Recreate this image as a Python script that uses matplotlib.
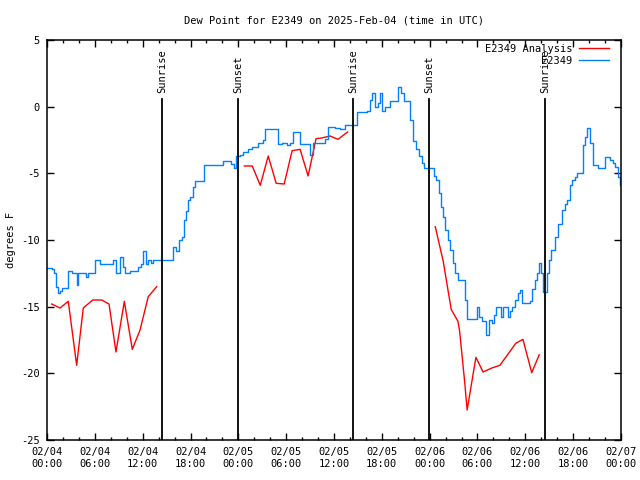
import numpy as np
import matplotlib
matplotlib.use("Agg")
import matplotlib.pyplot as plt
from matplotlib.ticker import MultipleLocator

# hours since 2025-02-04 00:00 UTC
obs_hours = [0, 0.63, 0.88, 1.13, 1.38, 1.63, 1.88, 2.38, 2.63, 3.14, 3.64, 3.76, 3.89,
             4.64, 4.89, 5.14, 5.64, 6.02, 6.65, 7.90, 8.28, 8.66, 8.91, 9.16, 9.53,
             9.78, 10.41, 11.16, 11.41, 11.79, 12.04, 12.42, 12.67, 13.05, 13.30,
             15.43, 15.81, 16.18, 16.56, 16.93, 17.19, 17.44, 17.69, 17.94, 18.31,
             18.56, 19.44, 19.69, 21.70, 22.08, 22.70, 23.08, 23.46, 23.71, 24.21,
             24.59, 25.21, 25.72, 26.47, 27.09, 27.35, 28.60, 28.98, 29.48, 30.11,
             30.48, 30.86, 31.36, 31.74, 32.61, 32.99, 33.37, 34.24, 34.87, 35.25,
             36.13, 36.75, 37.38, 38.38, 38.89, 39.89, 40.14, 40.52, 40.77, 41.14,
             41.52, 41.77, 42.02, 42.40, 43.03, 43.65, 44.03, 44.41, 44.78, 45.16,
             45.53, 45.91, 46.29, 46.66, 47.04, 47.29, 48.17, 48.54, 48.80, 49.17,
             49.42, 49.67, 49.92, 50.30, 50.55, 50.93, 51.18, 51.56, 52.06, 52.43,
             52.68, 53.69, 53.94, 54.19, 54.57, 55.07, 55.44, 55.82, 56.07, 56.32,
             56.82, 56.95, 57.20, 57.58, 57.83, 58.08, 58.33, 58.71, 59.08, 59.33,
             59.58, 60.21, 60.59, 60.84, 61.21, 61.46, 61.72, 61.97, 62.22, 62.47,
             62.72, 62.97, 63.22, 63.72, 64.10, 64.60, 64.98, 65.23, 65.60, 65.85,
             66.23, 66.48, 66.86, 67.23, 67.49, 67.74, 68.11, 68.49, 69.12, 69.62,
             69.99, 70.37, 70.62, 71.00, 71.25, 71.62, 71.87]
obs_dewpt = [-12.1, -12.2, -12.5, -13.5, -14.0, -13.8, -13.6, -13.6, -12.3, -12.5, -12.5,
             -13.4, -12.5, -12.5, -12.8, -12.5, -12.5, -11.5, -11.8, -11.8, -11.5, -12.5,
             -12.5, -11.3, -12.0, -12.5, -12.3, -12.3, -12.0, -11.8, -10.8, -11.8, -11.5,
             -11.7, -11.5, -11.5, -10.5, -10.8, -10.0, -9.8, -8.5, -7.8, -7.0, -6.8,
             -6.0, -5.6, -5.6, -4.4, -4.4, -4.1, -4.1, -4.3, -4.6, -3.7, -3.6, -3.4,
             -3.2, -3.0, -2.7, -2.5, -1.7, -1.7, -2.8, -2.7, -2.9, -2.7, -1.9, -1.9,
             -2.8, -2.8, -3.6, -2.7, -2.7, -2.4, -1.5, -1.6, -1.7, -1.4, -1.4, -0.4,
             -0.4, -0.3, 0.5, 1.0, 0.0, 0.3, 1.0, -0.3, 0.0, 0.4, 0.4, 1.5, 1.0, 0.4,
             0.4, -1.0, -2.6, -3.2, -3.7, -4.2, -4.6, -4.6, -5.2, -5.5, -6.5, -7.5,
             -8.3, -9.25, -10.0, -10.75, -11.7, -12.5, -13.0, -13.0, -14.5, -15.9,
             -15.9, -15.0, -15.8, -16.1, -17.1, -16.0, -16.2, -15.6, -15.0, -15.0,
             -15.75, -15.0, -15.0, -15.75, -15.3, -15.0, -14.5, -14.0, -13.75, -14.75,
             -14.75, -14.6, -13.7, -13.0, -12.5, -11.75, -12.5, -13.9, -13.9, -12.5,
             -11.5, -10.75, -9.75, -8.8, -7.75, -7.3, -7.0, -5.9, -5.5, -5.25, -5.0,
             -5.0, -2.9, -2.3, -1.6, -2.75, -4.4, -4.6, -4.6, -3.75, -3.75, -4.0,
             -4.2, -4.5, -5.3, -5.9]

ana_hours = [0.59, 1.63, 2.67, 3.72, 4.55, 5.73, 6.86, 7.78, 8.65, 9.70, 10.70, 11.67,
             12.70, 13.76, np.nan,
             24.75, 25.75, 26.75, 27.75, 28.75, 29.75, 30.75, 31.75, 32.75, 33.75,
             34.45, 35.5, 36.5, 37.7, np.nan,
             48.7, 49.7, 50.7, 51.55, 51.75, 52.4, 52.7, 53.8, 54.7, 55.8, 56.8,
             57.9, 58.8, 59.7, 60.8, 61.75]
ana_dewpt = [-14.8, -15.1, -14.6, -19.4, -15.1, -14.5, -14.5, -14.8, -18.4, -14.6, -18.2,
             -16.75, -14.25, -13.5, np.nan,
             -4.45, -4.45, -5.9, -3.7, -5.75, -5.8, -3.3, -3.2, -5.2, -2.4, -2.35,
             -2.2, -2.45, -1.9, np.nan,
             -9.0, -11.6, -15.2, -16.1, -16.8, -20.7, -22.75, -18.8, -19.9, -19.6,
             -19.4, -18.5, -17.75, -17.45, -19.95, -18.6]

sun_hours = [14.46, 24.0, 38.42, 47.96, 62.5]
sun_labels = ["Sunrise", "Sunset", "Sunrise", "Sunset", "Sunrise"]

tick_hours = list(range(0, 73, 6))
tick_labels = ["02/04\n00:00", "02/04\n06:00", "02/04\n12:00", "02/04\n18:00",
               "02/05\n00:00", "02/05\n06:00", "02/05\n12:00", "02/05\n18:00",
               "02/06\n00:00", "02/06\n06:00", "02/06\n12:00", "02/06\n18:00",
               "02/07\n00:00"]

plt.rcParams['font.family'] = ['DejaVu Sans Mono']
plt.rcParams['font.size'] = 7.5

fig = plt.figure(figsize=(6.4, 4.8), dpi=100)
ax = fig.add_axes([47 / 640, 40 / 480, 574 / 640, 400 / 480])

ax.plot(ana_hours, ana_dewpt, color='#ff0000', lw=1.0, label='E2349 Analysis')
ax.plot(obs_hours, obs_dewpt, color='#0080ff', lw=1.0, drawstyle='steps-post', label='E2349')

for h, lab in zip(sun_hours, sun_labels):
    ax.plot([h, h], [-25, 0.58], color='black', lw=1.3)
    ax.text(h, 1.05, lab, rotation=90, ha='center', va='bottom')

ax.set_xlim(0, 72)
ax.set_ylim(-25, 5)
ax.set_xticks(tick_hours)
ax.set_xticklabels(tick_labels)
ax.xaxis.set_minor_locator(MultipleLocator(2))
ax.yaxis.set_major_locator(MultipleLocator(5))
ax.yaxis.set_major_formatter(plt.FuncFormatter(lambda v, p: "%d" % v))
ax.tick_params(which='both', direction='in', top=True, right=True, width=1)
ax.tick_params(which='major', length=5, pad=5)
ax.tick_params(which='minor', length=2.5)
for s in ax.spines.values():
    s.set_linewidth(1.1)

ax.set_ylabel('degrees F', labelpad=4)
ax.set_title('Dew Point for E2349 on 2025-Feb-04 (time in UTC)', fontsize=7.5, pad=12)

ax.legend(loc='upper right', bbox_to_anchor=(0.983, 0.995), frameon=False,
          markerfirst=False, handlelength=2.9, handletextpad=0.6, labelspacing=0.15,
          borderaxespad=0, borderpad=0.2)

fig.savefig('out.png', dpi=100)
